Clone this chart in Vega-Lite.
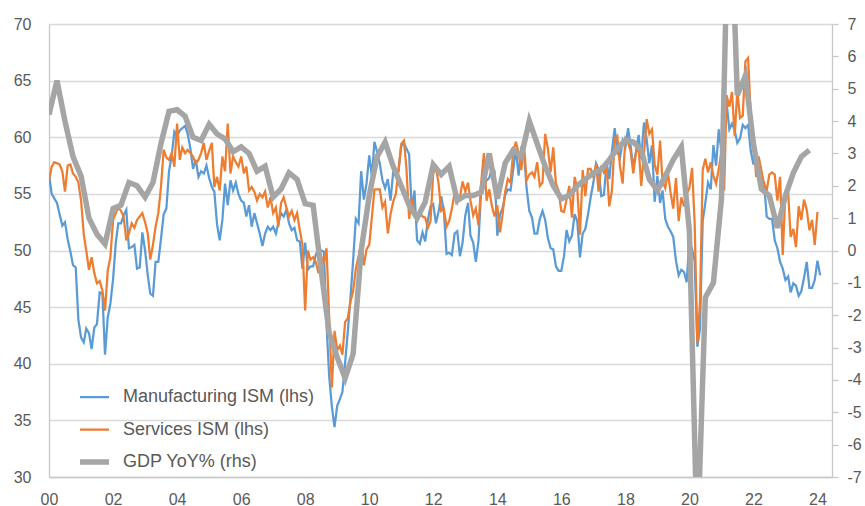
{
  "$schema": "https://vega.github.io/schema/vega-lite/v6.json",
  "width": 783,
  "height": 453,
  "autosize": {"type": "none"},
  "padding": {"left": 49, "top": 24, "right": 33, "bottom": 29},
  "background": "white",
  "config": {"view": {"stroke": null}, "font": "Liberation Sans"},
  "datasets": {
    "ism": [
      {"date":"2000-01","mfg":56.7,"svc":56.2},{"date":"2000-02","mfg":55.0,"svc":57.4},{"date":"2000-03","mfg":54.6,"svc":57.8},{"date":"2000-04","mfg":54.2,"svc":57.7},{"date":"2000-05","mfg":53.2,"svc":57.6},{"date":"2000-06","mfg":52.2,"svc":57.0},{"date":"2000-07","mfg":52.5,"svc":55.2},{"date":"2000-08","mfg":51.0,"svc":57.5},{"date":"2000-09","mfg":49.9,"svc":57.6},{"date":"2000-10","mfg":48.7,"svc":56.8},{"date":"2000-11","mfg":48.5,"svc":56.5},{"date":"2000-12","mfg":43.9,"svc":56.0},
      {"date":"2001-01","mfg":42.3,"svc":54.4},{"date":"2001-02","mfg":41.9,"svc":51.4},{"date":"2001-03","mfg":43.1,"svc":50.0},{"date":"2001-04","mfg":42.7,"svc":48.3},{"date":"2001-05","mfg":41.3,"svc":49.4},{"date":"2001-06","mfg":43.2,"svc":48.0},{"date":"2001-07","mfg":43.5,"svc":47.1},{"date":"2001-08","mfg":46.3,"svc":47.3},{"date":"2001-09","mfg":46.2,"svc":46.5},{"date":"2001-10","mfg":40.8,"svc":44.7},{"date":"2001-11","mfg":44.1,"svc":48.2},{"date":"2001-12","mfg":45.3,"svc":49.4},
      {"date":"2002-01","mfg":47.5,"svc":52.7},{"date":"2002-02","mfg":50.7,"svc":53.3},{"date":"2002-03","mfg":52.4,"svc":53.8},{"date":"2002-04","mfg":52.4,"svc":53.5},{"date":"2002-05","mfg":53.1,"svc":53.0},{"date":"2002-06","mfg":53.6,"svc":50.9},{"date":"2002-07","mfg":50.2,"svc":51.5},{"date":"2002-08","mfg":50.3,"svc":52.4},{"date":"2002-09","mfg":50.5,"svc":52.0},{"date":"2002-10","mfg":48.4,"svc":52.7},{"date":"2002-11","mfg":48.5,"svc":53.0},{"date":"2002-12","mfg":51.6,"svc":53.3},
      {"date":"2003-01","mfg":50.0,"svc":52.5},{"date":"2003-02","mfg":47.8,"svc":51.5},{"date":"2003-03","mfg":46.2,"svc":49.2},{"date":"2003-04","mfg":46.0,"svc":50.5},{"date":"2003-05","mfg":49.0,"svc":52.1},{"date":"2003-06","mfg":49.0,"svc":53.3},{"date":"2003-07","mfg":51.0,"svc":55.6},{"date":"2003-08","mfg":53.2,"svc":58.9},{"date":"2003-09","mfg":53.7,"svc":58.2},{"date":"2003-10","mfg":57.0,"svc":58.0},{"date":"2003-11","mfg":58.4,"svc":58.6},{"date":"2003-12","mfg":60.5,"svc":57.4},
      {"date":"2004-01","mfg":60.1,"svc":61.2},{"date":"2004-02","mfg":60.6,"svc":58.0},{"date":"2004-03","mfg":60.8,"svc":59.1},{"date":"2004-04","mfg":61.0,"svc":58.6},{"date":"2004-05","mfg":60.3,"svc":58.9},{"date":"2004-06","mfg":59.0,"svc":58.6},{"date":"2004-07","mfg":57.2,"svc":58.3},{"date":"2004-08","mfg":58.0,"svc":57.7},{"date":"2004-09","mfg":56.5,"svc":58.0},{"date":"2004-10","mfg":57.0,"svc":58.6},{"date":"2004-11","mfg":56.8,"svc":59.5},{"date":"2004-12","mfg":57.5,"svc":58.0},
      {"date":"2005-01","mfg":56.4,"svc":58.8},{"date":"2005-02","mfg":55.6,"svc":59.5},{"date":"2005-03","mfg":55.2,"svc":55.6},{"date":"2005-04","mfg":52.3,"svc":56.5},{"date":"2005-05","mfg":50.9,"svc":55.3},{"date":"2005-06","mfg":52.7,"svc":58.3},{"date":"2005-07","mfg":55.9,"svc":57.0},{"date":"2005-08","mfg":54.0,"svc":61.2},{"date":"2005-09","mfg":56.2,"svc":56.8},{"date":"2005-10","mfg":55.3,"svc":58.3},{"date":"2005-11","mfg":56.0,"svc":57.8},{"date":"2005-12","mfg":55.0,"svc":57.4},
      {"date":"2006-01","mfg":54.4,"svc":58.3},{"date":"2006-02","mfg":54.2,"svc":56.8},{"date":"2006-03","mfg":53.0,"svc":57.4},{"date":"2006-04","mfg":54.0,"svc":55.3},{"date":"2006-05","mfg":52.1,"svc":55.6},{"date":"2006-06","mfg":53.3,"svc":55.2},{"date":"2006-07","mfg":52.4,"svc":54.4},{"date":"2006-08","mfg":51.5,"svc":55.0},{"date":"2006-09","mfg":50.4,"svc":54.7},{"date":"2006-10","mfg":51.5,"svc":55.2},{"date":"2006-11","mfg":52.1,"svc":53.8},{"date":"2006-12","mfg":51.8,"svc":54.7},
      {"date":"2007-01","mfg":52.1,"svc":53.3},{"date":"2007-02","mfg":51.5,"svc":53.8},{"date":"2007-03","mfg":52.4,"svc":52.1},{"date":"2007-04","mfg":53.3,"svc":54.2},{"date":"2007-05","mfg":53.0,"svc":54.7},{"date":"2007-06","mfg":53.6,"svc":53.8},{"date":"2007-07","mfg":52.4,"svc":53.0},{"date":"2007-08","mfg":51.8,"svc":53.5},{"date":"2007-09","mfg":52.0,"svc":52.7},{"date":"2007-10","mfg":50.9,"svc":53.3},{"date":"2007-11","mfg":50.8,"svc":51.8},{"date":"2007-12","mfg":48.4,"svc":50.5},
      {"date":"2008-01","mfg":50.7,"svc":44.7},{"date":"2008-02","mfg":48.3,"svc":50.0},{"date":"2008-03","mfg":48.6,"svc":49.2},{"date":"2008-04","mfg":48.6,"svc":49.4},{"date":"2008-05","mfg":49.6,"svc":49.0},{"date":"2008-06","mfg":50.2,"svc":48.0},{"date":"2008-07","mfg":50.0,"svc":49.5},{"date":"2008-08","mfg":49.9,"svc":48.8},{"date":"2008-09","mfg":43.5,"svc":50.2},{"date":"2008-10","mfg":38.9,"svc":44.1},{"date":"2008-11","mfg":36.2,"svc":37.9},{"date":"2008-12","mfg":34.4,"svc":42.9},
      {"date":"2009-01","mfg":36.3,"svc":41.2},{"date":"2009-02","mfg":36.9,"svc":41.6},{"date":"2009-03","mfg":37.5,"svc":40.8},{"date":"2009-04","mfg":40.1,"svc":43.7},{"date":"2009-05","mfg":42.8,"svc":44.0},{"date":"2009-06","mfg":45.8,"svc":45.5},{"date":"2009-07","mfg":49.1,"svc":46.4},{"date":"2009-08","mfg":52.8,"svc":48.4},{"date":"2009-09","mfg":52.4,"svc":49.5},{"date":"2009-10","mfg":57.0,"svc":50.6},{"date":"2009-11","mfg":54.5,"svc":48.7},{"date":"2009-12","mfg":55.9,"svc":50.1},
      {"date":"2010-01","mfg":58.4,"svc":50.5},{"date":"2010-02","mfg":56.5,"svc":53.0},{"date":"2010-03","mfg":59.6,"svc":55.4},{"date":"2010-04","mfg":58.7,"svc":55.4},{"date":"2010-05","mfg":57.7,"svc":55.4},{"date":"2010-06","mfg":56.2,"svc":53.8},{"date":"2010-07","mfg":55.5,"svc":54.3},{"date":"2010-08","mfg":56.3,"svc":51.5},{"date":"2010-09","mfg":54.4,"svc":53.2},{"date":"2010-10","mfg":56.9,"svc":54.3},{"date":"2010-11","mfg":56.6,"svc":55.0},{"date":"2010-12","mfg":57.0,"svc":57.1},
      {"date":"2011-01","mfg":59.2,"svc":59.4},{"date":"2011-02","mfg":59.5,"svc":59.7},{"date":"2011-03","mfg":59.0,"svc":57.3},{"date":"2011-04","mfg":58.5,"svc":52.8},{"date":"2011-05","mfg":53.5,"svc":54.6},{"date":"2011-06","mfg":55.3,"svc":53.3},{"date":"2011-07","mfg":50.9,"svc":52.7},{"date":"2011-08","mfg":50.6,"svc":53.3},{"date":"2011-09","mfg":51.6,"svc":53.0},{"date":"2011-10","mfg":50.8,"svc":52.9},{"date":"2011-11","mfg":52.7,"svc":52.0},{"date":"2011-12","mfg":53.9,"svc":52.6},
      {"date":"2012-01","mfg":54.1,"svc":56.8},{"date":"2012-02","mfg":52.4,"svc":57.3},{"date":"2012-03","mfg":53.4,"svc":56.0},{"date":"2012-04","mfg":54.8,"svc":53.5},{"date":"2012-05","mfg":53.5,"svc":53.7},{"date":"2012-06","mfg":49.7,"svc":52.1},{"date":"2012-07","mfg":49.8,"svc":52.6},{"date":"2012-08","mfg":49.6,"svc":53.7},{"date":"2012-09","mfg":51.5,"svc":55.1},{"date":"2012-10","mfg":51.7,"svc":54.2},{"date":"2012-11","mfg":49.5,"svc":54.7},{"date":"2012-12","mfg":50.7,"svc":56.1},
      {"date":"2013-01","mfg":53.1,"svc":55.2},{"date":"2013-02","mfg":54.2,"svc":56.0},{"date":"2013-03","mfg":51.3,"svc":54.4},{"date":"2013-04","mfg":50.7,"svc":53.1},{"date":"2013-05","mfg":49.0,"svc":53.7},{"date":"2013-06","mfg":50.9,"svc":52.2},{"date":"2013-07","mfg":55.4,"svc":56.0},{"date":"2013-08","mfg":55.7,"svc":58.6},{"date":"2013-09","mfg":56.2,"svc":54.4},{"date":"2013-10","mfg":56.4,"svc":55.4},{"date":"2013-11","mfg":57.3,"svc":53.9},{"date":"2013-12","mfg":57.0,"svc":53.0},
      {"date":"2014-01","mfg":51.3,"svc":54.0},{"date":"2014-02","mfg":53.2,"svc":51.6},{"date":"2014-03","mfg":53.7,"svc":53.1},{"date":"2014-04","mfg":54.9,"svc":55.2},{"date":"2014-05","mfg":55.4,"svc":56.3},{"date":"2014-06","mfg":55.3,"svc":56.0},{"date":"2014-07","mfg":57.1,"svc":58.7},{"date":"2014-08","mfg":59.0,"svc":59.6},{"date":"2014-09","mfg":56.6,"svc":58.6},{"date":"2014-10","mfg":59.0,"svc":57.1},{"date":"2014-11","mfg":58.7,"svc":59.3},{"date":"2014-12","mfg":55.5,"svc":56.2},
      {"date":"2015-01","mfg":53.5,"svc":56.7},{"date":"2015-02","mfg":52.9,"svc":56.9},{"date":"2015-03","mfg":51.5,"svc":56.5},{"date":"2015-04","mfg":51.5,"svc":57.8},{"date":"2015-05","mfg":52.8,"svc":55.7},{"date":"2015-06","mfg":53.5,"svc":56.0},{"date":"2015-07","mfg":52.7,"svc":60.3},{"date":"2015-08","mfg":51.1,"svc":59.0},{"date":"2015-09","mfg":50.2,"svc":56.9},{"date":"2015-10","mfg":50.1,"svc":59.1},{"date":"2015-11","mfg":48.6,"svc":55.9},{"date":"2015-12","mfg":48.2,"svc":55.3},
      {"date":"2016-01","mfg":48.2,"svc":53.5},{"date":"2016-02","mfg":49.5,"svc":53.4},{"date":"2016-03","mfg":51.8,"svc":54.5},{"date":"2016-04","mfg":50.8,"svc":55.7},{"date":"2016-05","mfg":51.3,"svc":52.9},{"date":"2016-06","mfg":53.2,"svc":56.5},{"date":"2016-07","mfg":52.6,"svc":55.5},{"date":"2016-08","mfg":49.4,"svc":51.4},{"date":"2016-09","mfg":51.5,"svc":57.1},{"date":"2016-10","mfg":51.9,"svc":54.8},{"date":"2016-11","mfg":53.2,"svc":57.2},{"date":"2016-12","mfg":54.7,"svc":57.2},
      {"date":"2017-01","mfg":56.0,"svc":56.5},{"date":"2017-02","mfg":57.7,"svc":57.6},{"date":"2017-03","mfg":57.2,"svc":55.2},{"date":"2017-04","mfg":54.8,"svc":57.5},{"date":"2017-05","mfg":54.9,"svc":56.9},{"date":"2017-06","mfg":57.8,"svc":57.4},{"date":"2017-07","mfg":56.3,"svc":53.9},{"date":"2017-08","mfg":58.8,"svc":55.3},{"date":"2017-09","mfg":60.8,"svc":59.8},{"date":"2017-10","mfg":58.7,"svc":60.1},{"date":"2017-11","mfg":58.2,"svc":57.4},{"date":"2017-12","mfg":59.7,"svc":55.9},
      {"date":"2018-01","mfg":59.1,"svc":59.9},{"date":"2018-02","mfg":60.8,"svc":59.5},{"date":"2018-03","mfg":59.3,"svc":58.8},{"date":"2018-04","mfg":57.3,"svc":56.8},{"date":"2018-05","mfg":58.7,"svc":58.6},{"date":"2018-06","mfg":60.2,"svc":59.1},{"date":"2018-07","mfg":58.1,"svc":55.7},{"date":"2018-08","mfg":61.3,"svc":58.5},{"date":"2018-09","mfg":59.8,"svc":61.6},{"date":"2018-10","mfg":57.7,"svc":60.3},{"date":"2018-11","mfg":59.3,"svc":60.7},{"date":"2018-12","mfg":54.3,"svc":57.6},
      {"date":"2019-01","mfg":56.6,"svc":56.7},{"date":"2019-02","mfg":54.2,"svc":59.7},{"date":"2019-03","mfg":55.3,"svc":56.1},{"date":"2019-04","mfg":52.8,"svc":55.5},{"date":"2019-05","mfg":52.1,"svc":56.9},{"date":"2019-06","mfg":51.7,"svc":55.1},{"date":"2019-07","mfg":51.2,"svc":53.7},{"date":"2019-08","mfg":49.1,"svc":56.4},{"date":"2019-09","mfg":47.8,"svc":52.6},{"date":"2019-10","mfg":48.3,"svc":54.7},{"date":"2019-11","mfg":48.1,"svc":53.9},{"date":"2019-12","mfg":47.2,"svc":55.0},
      {"date":"2020-01","mfg":50.9,"svc":55.5},{"date":"2020-02","mfg":50.1,"svc":57.3},{"date":"2020-03","mfg":49.1,"svc":52.5},{"date":"2020-04","mfg":41.5,"svc":41.8},{"date":"2020-05","mfg":43.1,"svc":45.4},{"date":"2020-06","mfg":52.6,"svc":57.1},{"date":"2020-07","mfg":54.2,"svc":58.1},{"date":"2020-08","mfg":56.0,"svc":56.9},{"date":"2020-09","mfg":55.4,"svc":57.8},{"date":"2020-10","mfg":59.3,"svc":56.6},{"date":"2020-11","mfg":57.5,"svc":55.9},{"date":"2020-12","mfg":60.7,"svc":57.2},
      {"date":"2021-01","mfg":58.7,"svc":58.7},{"date":"2021-02","mfg":60.8,"svc":55.3},{"date":"2021-03","mfg":63.0,"svc":63.7},{"date":"2021-04","mfg":60.7,"svc":62.7},{"date":"2021-05","mfg":61.2,"svc":64.0},{"date":"2021-06","mfg":60.6,"svc":60.1},{"date":"2021-07","mfg":59.5,"svc":64.1},{"date":"2021-08","mfg":59.9,"svc":61.7},{"date":"2021-09","mfg":61.1,"svc":61.9},{"date":"2021-10","mfg":60.8,"svc":66.7},{"date":"2021-11","mfg":61.1,"svc":67.0},{"date":"2021-12","mfg":58.8,"svc":62.0},
      {"date":"2022-01","mfg":57.6,"svc":59.9},{"date":"2022-02","mfg":58.6,"svc":56.5},{"date":"2022-03","mfg":57.1,"svc":58.3},{"date":"2022-04","mfg":55.4,"svc":57.1},{"date":"2022-05","mfg":56.1,"svc":55.9},{"date":"2022-06","mfg":53.0,"svc":55.3},{"date":"2022-07","mfg":52.8,"svc":56.7},{"date":"2022-08","mfg":52.8,"svc":56.9},{"date":"2022-09","mfg":50.9,"svc":56.7},{"date":"2022-10","mfg":50.2,"svc":54.4},{"date":"2022-11","mfg":49.0,"svc":56.5},{"date":"2022-12","mfg":48.4,"svc":49.6},
      {"date":"2023-01","mfg":47.4,"svc":55.2},{"date":"2023-02","mfg":47.7,"svc":55.1},{"date":"2023-03","mfg":46.3,"svc":51.2},{"date":"2023-04","mfg":47.1,"svc":51.9},{"date":"2023-05","mfg":46.9,"svc":50.3},{"date":"2023-06","mfg":46.0,"svc":53.9},{"date":"2023-07","mfg":46.4,"svc":52.7},{"date":"2023-08","mfg":47.6,"svc":54.5},{"date":"2023-09","mfg":49.0,"svc":53.6},{"date":"2023-10","mfg":46.7,"svc":51.8},{"date":"2023-11","mfg":46.7,"svc":52.7},{"date":"2023-12","mfg":47.4,"svc":50.5},
      {"date":"2024-01","mfg":49.1,"svc":53.4},{"date":"2024-02","mfg":47.8}
    ],
    "gdp": [
      {"date":"2000-01","gdp":4.2},{"date":"2000-04","gdp":5.25},{"date":"2000-07","gdp":4.0},{"date":"2000-10","gdp":2.9},
      {"date":"2001-01","gdp":2.3},{"date":"2001-04","gdp":1.0},{"date":"2001-07","gdp":0.5},{"date":"2001-10","gdp":0.2},
      {"date":"2002-01","gdp":1.3},{"date":"2002-04","gdp":1.4},{"date":"2002-07","gdp":2.1},{"date":"2002-10","gdp":2.0},
      {"date":"2003-01","gdp":1.65},{"date":"2003-04","gdp":2.1},{"date":"2003-07","gdp":3.3},{"date":"2003-10","gdp":4.3},
      {"date":"2004-01","gdp":4.35},{"date":"2004-04","gdp":4.15},{"date":"2004-07","gdp":3.5},{"date":"2004-10","gdp":3.4},
      {"date":"2005-01","gdp":3.9},{"date":"2005-04","gdp":3.6},{"date":"2005-07","gdp":3.45},{"date":"2005-10","gdp":3.05},
      {"date":"2006-01","gdp":3.2},{"date":"2006-04","gdp":3.0},{"date":"2006-07","gdp":2.45},{"date":"2006-10","gdp":2.6},
      {"date":"2007-01","gdp":1.65},{"date":"2007-04","gdp":1.9},{"date":"2007-07","gdp":2.4},{"date":"2007-10","gdp":2.2},
      {"date":"2008-01","gdp":1.45},{"date":"2008-04","gdp":1.4},{"date":"2008-07","gdp":-0.6},{"date":"2008-10","gdp":-2.55},
      {"date":"2009-01","gdp":-3.3},{"date":"2009-04","gdp":-3.95},{"date":"2009-07","gdp":-3.2},{"date":"2009-10","gdp":0.0},
      {"date":"2010-01","gdp":1.7},{"date":"2010-04","gdp":2.9},{"date":"2010-07","gdp":3.35},{"date":"2010-10","gdp":2.6},
      {"date":"2011-01","gdp":2.0},{"date":"2011-04","gdp":1.4},{"date":"2011-07","gdp":1.0},{"date":"2011-10","gdp":1.5},
      {"date":"2012-01","gdp":2.65},{"date":"2012-04","gdp":2.35},{"date":"2012-07","gdp":2.6},{"date":"2012-10","gdp":1.55},
      {"date":"2013-01","gdp":1.7},{"date":"2013-04","gdp":1.7},{"date":"2013-07","gdp":1.8},{"date":"2013-10","gdp":3.0},
      {"date":"2014-01","gdp":1.6},{"date":"2014-04","gdp":2.7},{"date":"2014-07","gdp":3.1},{"date":"2014-10","gdp":2.9},
      {"date":"2015-01","gdp":4.0},{"date":"2015-04","gdp":3.3},{"date":"2015-07","gdp":2.6},{"date":"2015-10","gdp":2.0},
      {"date":"2016-01","gdp":1.6},{"date":"2016-04","gdp":1.7},{"date":"2016-07","gdp":2.0},{"date":"2016-10","gdp":2.2},
      {"date":"2017-01","gdp":2.4},{"date":"2017-04","gdp":2.5},{"date":"2017-07","gdp":2.8},{"date":"2017-10","gdp":3.15},
      {"date":"2018-01","gdp":3.4},{"date":"2018-04","gdp":3.35},{"date":"2018-07","gdp":3.1},{"date":"2018-10","gdp":2.2},
      {"date":"2019-01","gdp":1.85},{"date":"2019-04","gdp":2.3},{"date":"2019-07","gdp":2.8},{"date":"2019-10","gdp":3.2},
      {"date":"2020-01","gdp":0.6},{"date":"2020-04","gdp":-9.1},{"date":"2020-07","gdp":-1.45},{"date":"2020-10","gdp":-1.0},
      {"date":"2021-01","gdp":1.6},{"date":"2021-04","gdp":12.0},{"date":"2021-07","gdp":4.8},{"date":"2021-10","gdp":5.4},
      {"date":"2022-01","gdp":3.3},{"date":"2022-04","gdp":1.9},{"date":"2022-07","gdp":1.7},{"date":"2022-10","gdp":0.7},
      {"date":"2023-01","gdp":1.7},{"date":"2023-04","gdp":2.4},{"date":"2023-07","gdp":2.9},{"date":"2023-10","gdp":3.1}
    ]
  },
  "layer": [
    {
      "data": {"name": "ism"},
      "mark": {"type": "line", "strokeWidth": 2.25, "clip": true},
      "encoding": {
        "x": {"field": "date", "type": "temporal",
              "scale": {"type": "utc", "domain": [{"year": 2000, "month": 1, "date": 1, "utc": true}, {"year": 2024, "month": 6, "date": 15, "utc": true}]},
              "axis": {"title": null, "format": "%y", "tickCount": {"interval": "year", "step": 2}, "grid": false, "ticks": false,
                       "labelPadding": 14, "labelFontSize": 16, "labelColor": "#595959", "labelFont": "Liberation Sans",
                       "domainColor": "#C8C8C8", "domainWidth": 1.3, "labelFlush": false, "labelOverlap": false}},
        "y": {"field": "mfg", "type": "quantitative",
              "scale": {"domain": [30, 70], "nice": false, "zero": false},
              "axis": {"orient": "left", "title": null, "values": [30, 35, 40, 45, 50, 55, 60, 65, 70],
                       "grid": true, "gridColor": "#D9D9D9", "gridWidth": 1.3, "ticks": false,
                       "domainColor": "#C8C8C8", "domainWidth": 1.3, "labelPadding": 18,
                       "labelFontSize": 16, "labelColor": "#595959", "labelFont": "Liberation Sans"}},
        "color": {"datum": "Manufacturing ISM (lhs)", "type": "nominal",
                  "scale": {"domain": ["Manufacturing ISM (lhs)", "Services ISM (lhs)", "GDP YoY% (rhs)"], "range": ["#5B9BD5", "#ED7D31", "#A5A5A5"]},
                  "legend": {"orient": "none", "legendX": 31, "legendY": 363, "title": null, "padding": 0,
                             "symbolType": "stroke", "symbolSize": 1600, "symbolStrokeWidth": 2.25, "clipHeight": 20, "rowPadding": 12.5,
                             "labelFontSize": 18, "labelColor": "#595959", "labelFont": "Liberation Sans", "labelOffset": 25, "labelLimit": 400,
                             "encode": {"symbols": {"update": {"strokeWidth": {"signal": "datum.value === 'GDP YoY% (rhs)' ? 5.5 : 2.25"}}}}}}
      }
    },
    {
      "data": {"name": "ism"},
      "mark": {"type": "line", "strokeWidth": 2.25, "clip": true},
      "encoding": {
        "x": {"field": "date", "type": "temporal",
              "scale": {"type": "utc", "domain": [{"year": 2000, "month": 1, "date": 1, "utc": true}, {"year": 2024, "month": 6, "date": 15, "utc": true}]}},
        "y": {"field": "svc", "type": "quantitative", "scale": {"domain": [30, 70], "nice": false, "zero": false}, "axis": null},
        "color": {"datum": "Services ISM (lhs)", "type": "nominal"}
      }
    },
    {
      "data": {"name": "gdp"},
      "mark": {"type": "line", "strokeWidth": 5.5, "clip": true},
      "encoding": {
        "x": {"field": "date", "type": "temporal",
              "scale": {"type": "utc", "domain": [{"year": 2000, "month": 1, "date": 1, "utc": true}, {"year": 2024, "month": 6, "date": 15, "utc": true}]}},
        "y": {"field": "gdp", "type": "quantitative",
              "scale": {"domain": [-7, 7], "nice": false, "zero": false},
              "axis": {"orient": "right", "title": null, "values": [-7, -6, -5, -4, -3, -2, -1, 0, 1, 2, 3, 4, 5, 6, 7],
                       "labelExpr": "toString(datum.value)",
                       "grid": false, "ticks": true, "tickSize": 6, "tickColor": "#C8C8C8", "tickWidth": 1.3,
                       "domainColor": "#C8C8C8", "domainWidth": 1.3, "labelPadding": 9, "labelAlign": "left",
                       "labelFontSize": 16, "labelColor": "#595959", "labelFont": "Liberation Sans"}},
        "color": {"datum": "GDP YoY% (rhs)", "type": "nominal"}
      }
    }
  ],
  "resolve": {"scale": {"y": "independent"}}
}
